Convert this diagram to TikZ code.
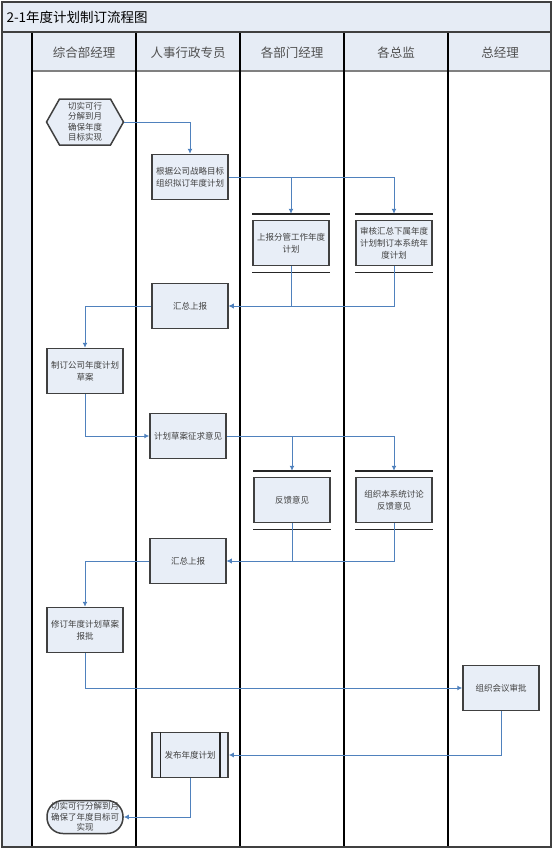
\documentclass[tikz,border=0pt]{standalone}
\usepackage{fontspec}
\setmainfont{Noto Sans CJK SC}
\usepackage{tikz}
\usetikzlibrary{calc,arrows.meta}

\definecolor{lanefill}{RGB}{230,236,245}
\definecolor{boxfill}{RGB}{232,238,247}
\definecolor{boxline}{RGB}{64,64,64}
\definecolor{flowblue}{RGB}{79,129,189}
\definecolor{headtext}{RGB}{80,80,80}

\tikzset{
	proc/.style={draw=boxline,fill=boxfill,line width=1.5pt,minimum width=76pt,minimum height=45pt,inner sep=1pt,align=center,font=\fontsize{8.5}{12}\selectfont,text=black!75},
	flow/.style={draw=flowblue,line width=1pt,-{Latex[length=5pt,width=5pt]}},
	bar/.style={line width=1.5pt,black!85},
	lanehead/.style={font=\fontsize{12.5}{14}\selectfont,text=headtext},
}

\begin{document}
\begin{tikzpicture}[x=1pt,y=-1pt]
	\useasboundingbox
	(0,0) rectangle (554,851);
	\fill[lanefill]
	(2,2) rectangle (551,32);
	\fill[lanefill]
	(32,32) rectangle (551,71);
	\fill[lanefill]
	(2,32) rectangle (32,847);
	\draw[gray,line width=2pt]
	(32,71) -- (551,71);
	\foreach \x in {32,136,240,344,448}
		\draw[line width=1.5pt] (\x,32) -- (\x,847);
	\draw[boxline,line width=1.5pt]
	(2,32) -- (551,32);
	\draw[boxline,line width=1.5pt]
	(2,2) rectangle (551,847);
	\node[anchor=west,font=\fontsize{13.5}{15}\selectfont] (title) at (3,17) {2-1年度计划制订流程图};
	\foreach \name/\x/\txt in {hz/84/综合部经理,hr/188/人事行政专员,hb/292/各部门经理,hj/396/各总监,hg/500/总经理}
		\node[lanehead] (\name) at (\x,53) {\txt};

	% start hexagon
	\coordinate (hexc) at (85,122);
	\draw[draw=boxline,fill=boxfill,line width=1.5pt]
	($(hexc)+(-38.5,0)$) -- ($(hexc)+(-25.5,-23)$) -- ($(hexc)+(25.5,-23)$) -- ($(hexc)+(38.5,0)$) -- ($(hexc)+(25.5,23)$) -- ($(hexc)+(-25.5,23)$) -- cycle;
	\node[minimum width=77pt,minimum height=46pt,inner sep=0pt,align=center,font=\fontsize{8.5}{10.5}\selectfont,text=black!75] (hex) at (hexc) {切实可行\\分解到月\\确保年度\\目标实现};

	\node[proc] (ni) at (190,177) {根据公司战略目标\\组织拟订年度计划};
	\node[proc] (sb) at (291,243) {上报分管工作年度\\计划};
	\node[proc] (sh) at (394,243) {审核汇总下属年度\\计划制订本系统年\\度计划};
	\node[proc] (hz1) at (190,306) {汇总上报};
	\node[proc] (cg) at (85,371) {制订公司年度计划\\草案};
	\node[proc] (zq) at (188,436) {计划草案征求意见};
	\node[proc] (fk) at (292,500) {反馈意见};
	\node[proc] (tl) at (394,500) {组织本系统讨论\\反馈意见};
	\node[proc] (hz2) at (188,561) {汇总上报};
	\node[proc] (xd) at (85,630) {修订年度计划草案\\报批};
	\node[proc] (sp) at (501,688) {组织会议审批};
	\node[proc] (fb) at (190,755) {发布年度计划};
	\node[proc,rounded corners=16pt,minimum height=33pt,inner sep=0pt,font=\fontsize{8.5}{10.5}\selectfont] (end) at (85,817) {切实可行分解到月\\确保了年度目标可\\实现};

	\foreach \n in {sb,sh,fk,tl}{
		\draw[bar] ([yshift=6pt]\n.north west) -- ([yshift=6pt]\n.north east);
		\draw[bar] ([yshift=-6pt]\n.south west) -- ([yshift=-6pt]\n.south east);
	}
	\draw[bar]
	([xshift=9pt]fb.north west) -- ([xshift=9pt]fb.south west);
	\draw[bar]
	([xshift=-9pt]fb.north east) -- ([xshift=-9pt]fb.south east);

	\draw[flow]
	(hex.east) -| (ni.north);
	\draw[flow]
	(ni.east) -| ([yshift=6pt]sb.north);
	\draw[flow]
	(ni.east) -| ([yshift=6pt]sh.north);
	\draw[flow]
	(sb.south) |- (hz1.east);
	\draw[flow]
	(sh.south) |- (hz1.east);
	\draw[flow]
	(hz1.west) -| (cg.north);
	\draw[flow]
	(cg.south) |- (zq.west);
	\draw[flow]
	(zq.east) -| ([yshift=6pt]fk.north);
	\draw[flow]
	(zq.east) -| ([yshift=6pt]tl.north);
	\draw[flow]
	(fk.south) |- (hz2.east);
	\draw[flow]
	(tl.south) |- (hz2.east);
	\draw[flow]
	(hz2.west) -| (xd.north);
	\draw[flow]
	(xd.south) |- (sp.west);
	\draw[flow]
	(sp.south) |- (fb.east);
	\draw[flow]
	(fb.south) |- (end.east);
\end{tikzpicture}
\end{document}
